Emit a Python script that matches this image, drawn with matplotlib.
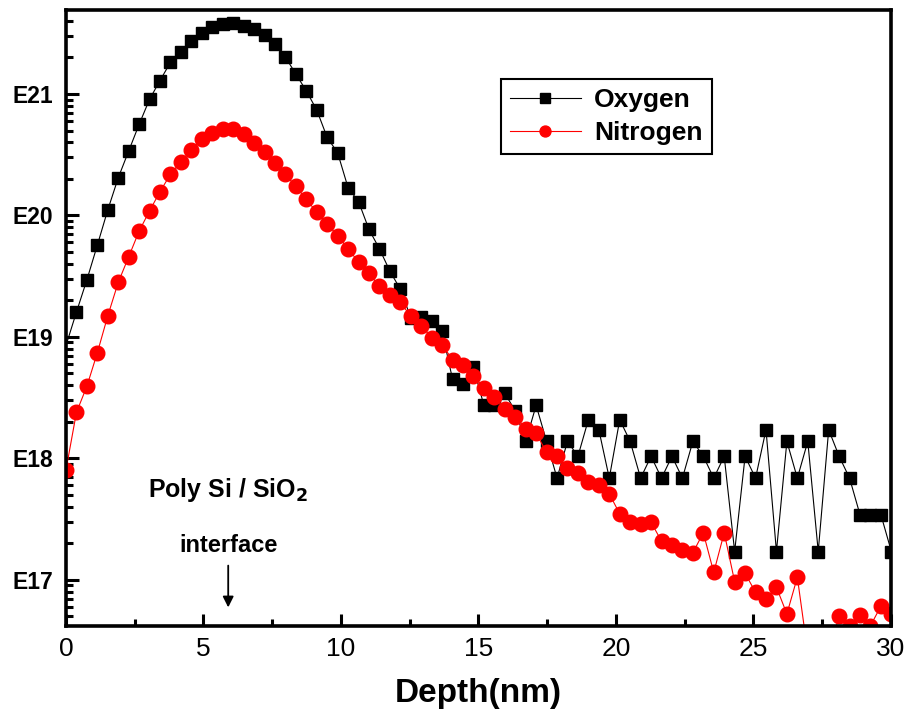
import numpy as np
import matplotlib
matplotlib.use('Agg')
import matplotlib.pyplot as plt
from matplotlib.ticker import FixedLocator, LogLocator, FuncFormatter, NullFormatter

plt.rcParams['font.family'] = ['Liberation Sans', 'DejaVu Sans']

depth = [0.00, 0.38, 0.76, 1.14, 1.52, 1.90, 2.28, 2.66, 3.04, 3.42,
         3.80, 4.18, 4.56, 4.94, 5.32, 5.70, 6.08, 6.46, 6.84, 7.22,
         7.60, 7.98, 8.36, 8.74, 9.12, 9.50, 9.88, 10.26, 10.64, 11.02,
         11.40, 11.78, 12.16, 12.54, 12.92, 13.30, 13.68, 14.06, 14.44, 14.82,
         15.20, 15.58, 15.96, 16.34, 16.72, 17.10, 17.48, 17.86, 18.24, 18.62,
         19.00, 19.38, 19.76, 20.14, 20.52, 20.90, 21.28, 21.66, 22.04, 22.42,
         22.80, 23.18, 23.56, 23.94, 24.32, 24.70, 25.08, 25.46, 25.84, 26.22,
         26.60, 26.98, 27.36, 27.74, 28.12, 28.50, 28.88, 29.26, 29.64, 30.02]

oxygen = [8.5e18, 1.60e19, 2.95e19, 5.69e19, 1.11e20, 2.04e20, 3.39e20, 5.62e20, 9.04e20, 1.29e21,
          1.82e21, 2.21e21, 2.75e21, 3.20e21, 3.59e21, 3.78e21, 3.83e21, 3.66e21, 3.44e21, 3.06e21,
          2.57e21, 2.01e21, 1.46e21, 1.06e21, 7.38e20, 4.38e20, 3.28e20, 1.69e20, 1.30e20, 7.67e19,
          5.31e19, 3.48e19, 2.47e19, 1.44e19, 1.45e19, 1.35e19, 1.11e19, 4.47e18, 4.12e18, 5.61e18,
          2.73e18, 2.73e18, 3.43e18, 2.46e18, 1.38e18, 2.73e18, 1.38e18, 6.87e17, 1.38e18, 1.04e18,
          2.08e18, 1.72e18, 6.87e17, 2.08e18, 1.38e18, 6.87e17, 1.04e18, 6.87e17, 1.04e18, 6.87e17,
          1.38e18, 1.04e18, 6.87e17, 1.04e18, 1.71e17, 1.04e18, 6.87e17, 1.72e18, 1.71e17, 1.38e18,
          6.87e17, 1.38e18, 1.71e17, 1.72e18, 1.04e18, 6.87e17, 3.43e17, 3.43e17, 3.43e17, 1.71e17]

nitrogen = [8.05e17, 2.39e18, 3.92e18, 7.40e18, 1.49e19, 2.81e19, 4.56e19, 7.43e19, 1.09e20, 1.57e20,
            2.18e20, 2.77e20, 3.45e20, 4.24e20, 4.74e20, 5.14e20, 5.12e20, 4.66e20, 3.93e20, 3.30e20,
            2.72e20, 2.18e20, 1.73e20, 1.36e20, 1.06e20, 8.53e19, 6.81e19, 5.31e19, 4.14e19, 3.33e19,
            2.61e19, 2.20e19, 1.92e19, 1.48e19, 1.24e19, 9.84e18, 8.57e18, 6.50e18, 5.83e18, 4.76e18,
            3.80e18, 3.22e18, 2.55e18, 2.21e18, 1.75e18, 1.61e18, 1.12e18, 1.04e18, 8.30e17, 7.60e17,
            6.37e17, 6.05e17, 5.11e17, 3.49e17, 2.98e17, 2.87e17, 2.98e17, 2.08e17, 1.94e17, 1.76e17,
            1.67e17, 2.44e17, 1.15e17, 2.44e17, 9.66e16, 1.13e17, 7.89e16, 6.95e16, 8.67e16, 5.24e16,
            1.05e17, 2.5e16, 2.5e16, 2.5e16, 5.02e16, 4.15e16, 5.12e16, 4.19e16, 6.07e16, 5.26e16]

decades = [17, 18, 19, 20, 21]
xticks = [0, 5, 10, 15, 20, 25, 30]


def main():
    fig = plt.figure(figsize=(9.09, 7.24), dpi=100)
    ax = fig.add_axes([0.0726, 0.1354, 0.9074, 0.8506])

    # first oxygen marker sits under the axis ticks in the original
    ax.plot(depth, oxygen, color='black', lw=0.8, marker='s', ms=9.2,
            mec='black', mfc='black', markevery=list(range(1, len(depth))),
            label='Oxygen')
    ax.plot(depth, nitrogen, color='red', lw=0.8, marker='o', ms=10.5,
            mec='red', mfc='red', label='Nitrogen')

    ax.set_yscale('log')
    ax.set_xlim(0, 30)
    ax.set_ylim(10**16.62, 10**21.69)

    ax.yaxis.set_major_locator(FixedLocator([10.0**d for d in decades]))
    ax.yaxis.set_major_formatter(FuncFormatter(lambda v, p: 'E%d' % round(np.log10(v))))
    ax.yaxis.set_minor_locator(LogLocator(base=10, subs=np.arange(2, 10), numticks=20))
    ax.yaxis.set_minor_formatter(NullFormatter())
    ax.set_xticks(xticks)
    ax.set_xticks([2.5, 7.5, 12.5, 17.5, 22.5, 27.5], minor=True)

    ax.tick_params(which='both', direction='in', top=False, right=False, width=2.2)
    ax.tick_params(which='major', length=9)
    ax.tick_params(which='minor', length=5)
    ax.tick_params(axis='x', labelsize=19, pad=8)
    ax.tick_params(axis='y', labelsize=16.5, pad=9)
    for t in ax.get_yticklabels():
        t.set_fontweight('bold')
    for s in ax.spines.values():
        s.set_linewidth(2.6)

    ax.set_xlabel('Depth(nm)', fontsize=24, fontweight='bold', labelpad=12)

    ax.text(5.9, 10**17.74, 'Poly Si / SiO$_\\mathbf{2}$', fontsize=18,
            fontweight='bold', ha='center', va='center')
    ax.text(5.9, 10**17.28, 'interface', fontsize=17, fontweight='bold',
            ha='center', va='center')
    ax.annotate('', xy=(5.9, 10**16.75), xytext=(5.9, 10**17.14),
                arrowprops=dict(arrowstyle='-|>', color='black', lw=1.3,
                                mutation_scale=16))

    leg = ax.legend(loc='upper left', bbox_to_anchor=(0.527, 0.888),
                    prop={'weight': 'bold', 'size': 19}, fancybox=False,
                    edgecolor='black', framealpha=1, handlelength=2.7,
                    handletextpad=0.5, markerscale=0.75, borderpad=0.34,
                    labelspacing=0.35, borderaxespad=0)
    leg.get_frame().set_linewidth(1.5)

    fig.savefig('out.png', dpi=100)


if __name__ == "__main__":
    main()
